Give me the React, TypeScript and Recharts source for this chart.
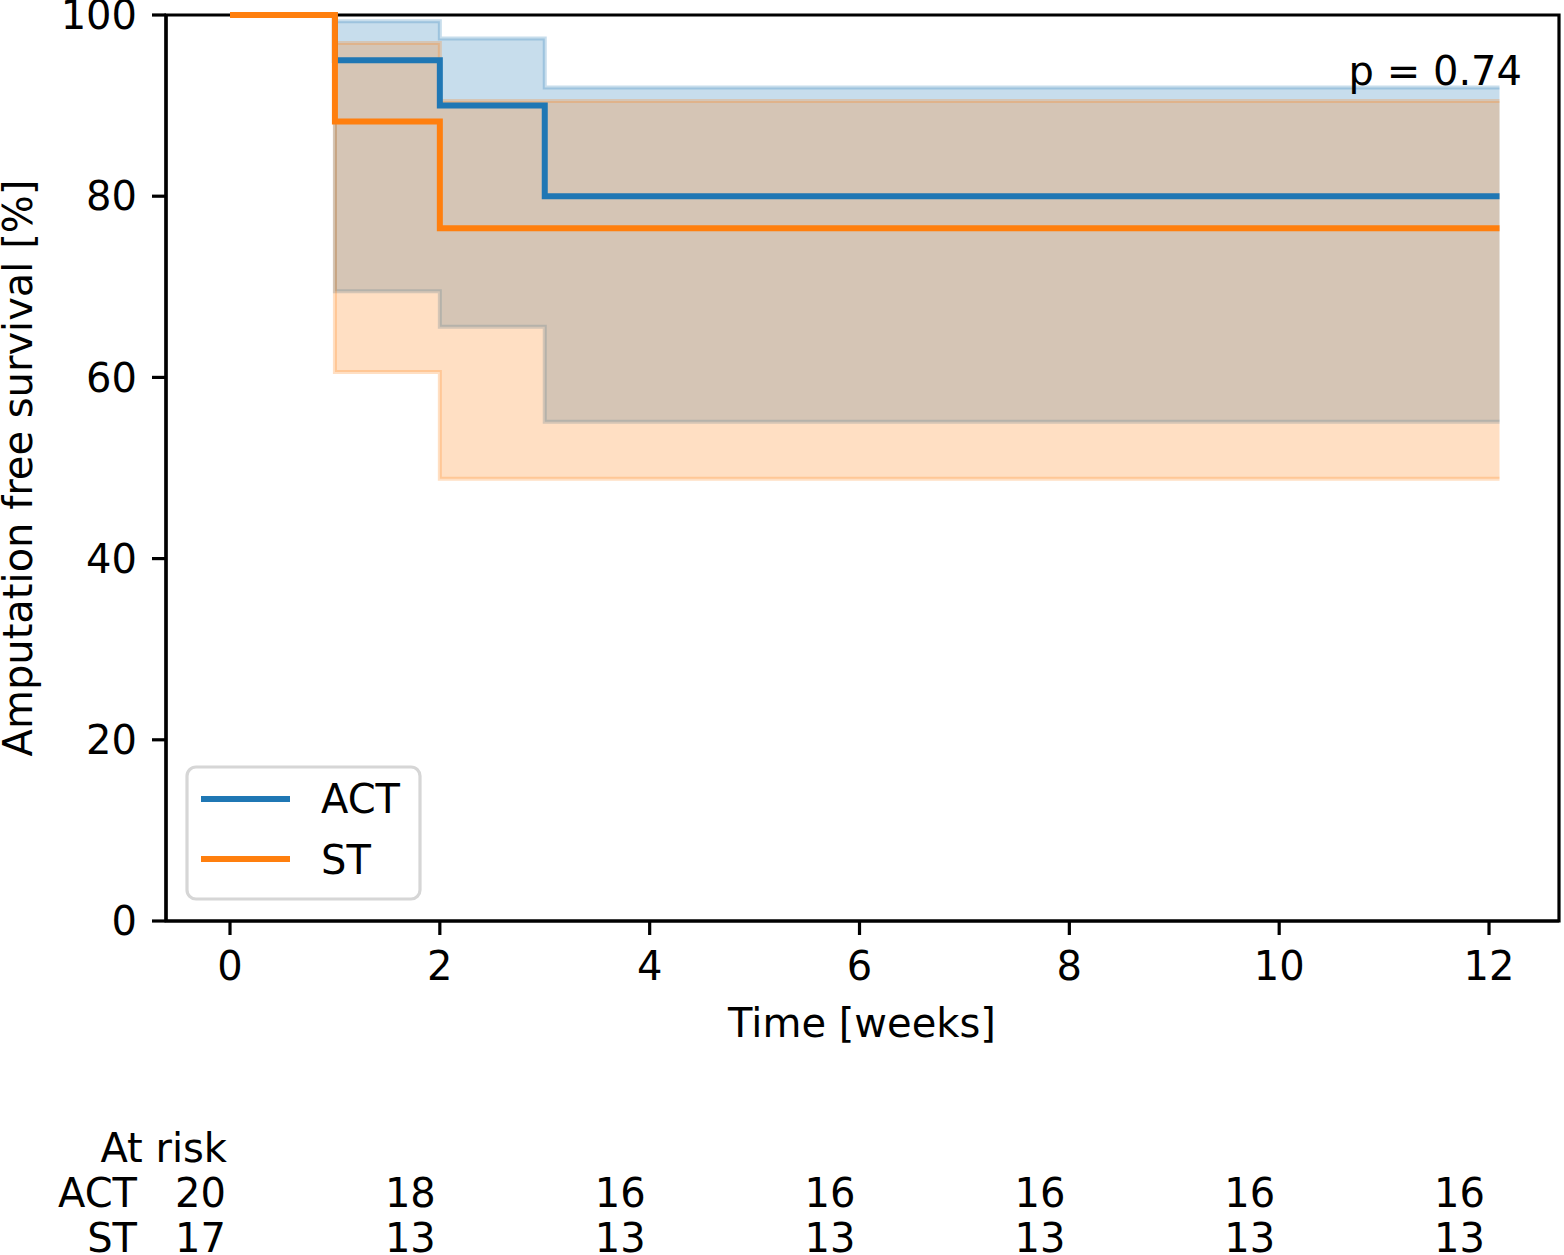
import React from 'react';
import { ComposedChart, Line, Area, XAxis, YAxis, ReferenceArea } from 'recharts';

const times = [0, 1, 2, 3, 12.1];
const actSurvival = [100, 95, 90, 80, 80];
const stSurvival = [100, 88.24, 76.47, 76.47, 76.47];
const actUpper = [100, 99.3, 97.4, 92.0, 92.0];
const actLower = [100, 69.5, 65.6, 55.1, 55.1];
const stUpper = [100, 96.9, 90.5, 90.5, 90.5];
const stLower = [100, 60.6, 48.8, 48.8, 48.8];

const xTicks = [0, 2, 4, 6, 8, 10, 12];
const yTicks = [0, 20, 40, 60, 80, 100];
const actAtRisk = [20, 18, 16, 16, 16, 16, 16];
const stAtRisk = [17, 13, 13, 13, 13, 13, 13];

const seriesNames = ['ACT', 'ST'];
const pValueText = 'p = 0.74';

const X_DOMAIN: [number, number] = [-0.61, 12.667];

const BLUE = '#1f77b4';
const ORANGE = '#ff7f0e';
const FONT = '"DejaVu Sans", Verdana, sans-serif';
const FS = 40;

const data = times.map((t, i) => ({
  t,
  act: actSurvival[i],
  st: stSurvival[i],
  actCI: [actLower[i], actUpper[i]],
  stCI: [stLower[i], stUpper[i]],
}));

const RiskTick = (props: any) => {
  const { x, y, index } = props;
  const style = { fontFamily: FONT, fontSize: FS, fill: '#000' };
  return (
    <g>
      {index === 0 && (
        <>
          <text x={x - 3} y={y + 41} textAnchor="end" style={style}>At risk</text>
          <text x={x - 93} y={y + 86} textAnchor="end" style={style}>{seriesNames[0]}</text>
          <text x={x - 93} y={y + 131} textAnchor="end" style={style}>{seriesNames[1]}</text>
        </>
      )}
      <text x={x - 4} y={y + 86} textAnchor="end" style={style}>{actAtRisk[index]}</text>
      <text x={x - 4} y={y + 131} textAnchor="end" style={style}>{stAtRisk[index]}</text>
    </g>
  );
};

export default function App() {
  const tickStyle = { fontFamily: FONT, fontSize: FS, fill: '#000' };
  return (
    <div style={{ position: 'absolute', left: 0, top: 0, width: 1564, height: 1255, background: '#fff' }}>
      <ComposedChart
        width={1564}
        height={1255}
        data={data}
        margin={{ top: 15, right: 5, left: 66, bottom: 0 }}
      >
        <XAxis
          xAxisId="main"
          dataKey="t"
          type="number"
          domain={X_DOMAIN}
          ticks={xTicks}
          interval={0}
          height={200}
          tickSize={14}
          tickMargin={17}
          tick={tickStyle}
          axisLine={{ stroke: '#000', strokeWidth: 3.2 }}
          tickLine={{ stroke: '#000', strokeWidth: 3.2 }}
        />
        <XAxis
          xAxisId="risk"
          dataKey="t"
          type="number"
          domain={X_DOMAIN}
          ticks={xTicks}
          interval={0}
          height={134}
          tickSize={0}
          tickMargin={0}
          axisLine={false}
          tickLine={false}
          tick={<RiskTick />}
        />
        <YAxis
          type="number"
          domain={[0, 100]}
          ticks={yTicks}
          interval={0}
          width={100}
          tickSize={14}
          tickMargin={15}
          tick={tickStyle}
          axisLine={{ stroke: '#000', strokeWidth: 3.2 }}
          tickLine={{ stroke: '#000', strokeWidth: 3.2 }}
        />
        <Area
          xAxisId="main"
          type="stepAfter"
          dataKey="actCI"
          fill={BLUE}
          fillOpacity={0.25}
          stroke={BLUE}
          strokeOpacity={0.25}
          strokeWidth={4}
          isAnimationActive={false}
          dot={false}
          activeDot={false}
        />
        <Area
          xAxisId="main"
          type="stepAfter"
          dataKey="stCI"
          fill={ORANGE}
          fillOpacity={0.25}
          stroke={ORANGE}
          strokeOpacity={0.25}
          strokeWidth={4}
          isAnimationActive={false}
          dot={false}
          activeDot={false}
        />
        <Line
          xAxisId="main"
          type="stepAfter"
          dataKey="act"
          stroke={BLUE}
          strokeWidth={6}
          dot={false}
          activeDot={false}
          isAnimationActive={false}
        />
        <Line
          xAxisId="main"
          type="stepAfter"
          dataKey="st"
          stroke={ORANGE}
          strokeWidth={6}
          dot={false}
          activeDot={false}
          isAnimationActive={false}
        />
        <Line
          xAxisId="risk"
          type="stepAfter"
          dataKey="act"
          stroke="none"
          dot={false}
          activeDot={false}
          isAnimationActive={false}
          legendType="none"
        />
        <ReferenceArea
          xAxisId="main"
          x1={X_DOMAIN[0]}
          x2={X_DOMAIN[1]}
          y1={0}
          y2={100}
          fill="none"
          stroke="#000"
          strokeWidth={3.2}
          ifOverflow="visible"
        />
      </ComposedChart>
      <svg
        width={1564}
        height={1255}
        style={{ position: 'absolute', left: 0, top: 0, pointerEvents: 'none' }}
      >
        <text x={862} y={1037} textAnchor="middle" style={tickStyle}>Time [weeks]</text>
        <text
          x={18}
          y={468}
          textAnchor="middle"
          dominantBaseline="central"
          transform="rotate(-90 18 468)"
          style={tickStyle}
        >
          Amputation free survival [%]
        </text>
        <text x={1522} y={85} textAnchor="end" style={tickStyle}>{pValueText}</text>
        <rect x={187} y={767} width={233} height={132} rx={9} ry={9} fill="#fff" fillOpacity={0.8} stroke="#d6d6d6" strokeWidth={3.2} />
        <line x1={201} x2={290} y1={799} y2={799} stroke={BLUE} strokeWidth={6} />
        <line x1={201} x2={290} y1={859} y2={859} stroke={ORANGE} strokeWidth={6} />
        <text x={321} y={813} style={tickStyle}>{seriesNames[0]}</text>
        <text x={321} y={874} style={tickStyle}>{seriesNames[1]}</text>
      </svg>
    </div>
  );
}
